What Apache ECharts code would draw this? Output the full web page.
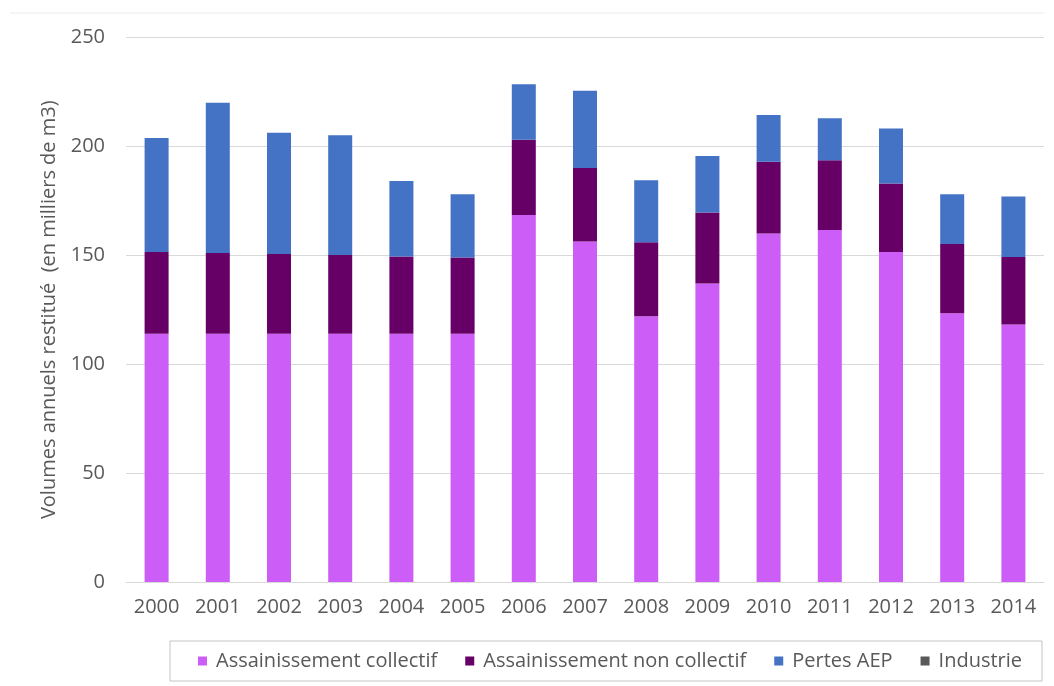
<!DOCTYPE html>
<html>
<head>
<meta charset="utf-8">
<script src="https://cdn.jsdelivr.net/npm/echarts@6/dist/echarts.min.js"></script>
<style>
html,body{margin:0;padding:0;background:#fff;}
#chart{width:1054px;height:686px;}
</style>
</head>
<body>
<div id="chart"></div>
<script>
const years = ['2000','2001','2002','2003','2004','2005','2006','2007','2008','2009','2010','2011','2012','2013','2014'];
const assainissementCollectif = [114, 114, 114, 114, 114, 114, 168.5, 156.3, 122, 137, 160, 161.6, 151.5, 123.4, 118.2];
const assainissementNonCollectif = [37.5, 37, 36.6, 36.1, 35.5, 35, 34.5, 33.8, 34, 32.6, 33, 32, 31.5, 31.8, 31];
const pertesAEP = [52.4, 69, 55.7, 55, 34.6, 29, 25.5, 35.4, 28.5, 26, 21.4, 19.3, 25.2, 22.8, 27.8];
const industrie = [0, 0, 0, 0, 0, 0, 0, 0, 0, 0, 0, 0, 0, 0, 0];
const yTicks = [0, 50, 100, 150, 200, 250];

const font = '"Open Sans", "Noto Sans", sans-serif';
const txt = '#595959';
const chart = echarts.init(document.getElementById('chart'));
const mk = (name, data, color) => ({
  name, type: 'bar', stack: 'total', data, barWidth: 24,
  itemStyle: { color }, emphasis: { disabled: true }
});
chart.setOption({
  animation: false,
  backgroundColor: '#fff',
  graphic: [{
    type: 'line', shape: { x1: 10, y1: 13, x2: 1044, y2: 13 },
    style: { stroke: '#ebebeb', lineWidth: 1 }, silent: true
  }],
  grid: { left: 126, right: 10, top: 37.5, bottom: 104, containLabel: false },
  legend: {
    left: 170, top: 641,
    padding: [10, 20, 10, 28],
    borderColor: '#c4c4c4', borderWidth: 1,
    itemWidth: 9, itemHeight: 9, itemGap: 28,
    icon: 'rect',
    textStyle: { fontFamily: font, fontSize: 20, color: txt, padding: [0, 0, 0, 4] },
    data: ['Assainissement collectif', 'Assainissement non collectif', 'Pertes AEP', 'Industrie']
  },
  xAxis: {
    type: 'category', data: years,
    axisLine: { show: true, lineStyle: { color: '#d9d9d9' } },
    axisTick: { show: false },
    axisLabel: { fontFamily: font, fontSize: 20, color: txt, margin: 15 }
  },
  yAxis: {
    type: 'value', min: yTicks[0], max: yTicks[yTicks.length - 1], interval: 50,
    name: 'Volumes annuels restitué  (en milliers de m3)',
    nameLocation: 'middle', nameGap: 66,
    nameTextStyle: { fontFamily: font, fontSize: 20, color: txt },
    axisLine: { show: false }, axisTick: { show: false },
    axisLabel: { fontFamily: font, fontSize: 20, color: txt, margin: 21 },
    splitLine: { lineStyle: { color: '#d9d9d9' } }
  },
  series: [
    mk('Assainissement collectif', assainissementCollectif, '#cc5ef7'),
    mk('Assainissement non collectif', assainissementNonCollectif, '#660066'),
    mk('Pertes AEP', pertesAEP, '#4472c4'),
    mk('Industrie', industrie, '#595959')
  ]
});
</script>
</body>
</html>
